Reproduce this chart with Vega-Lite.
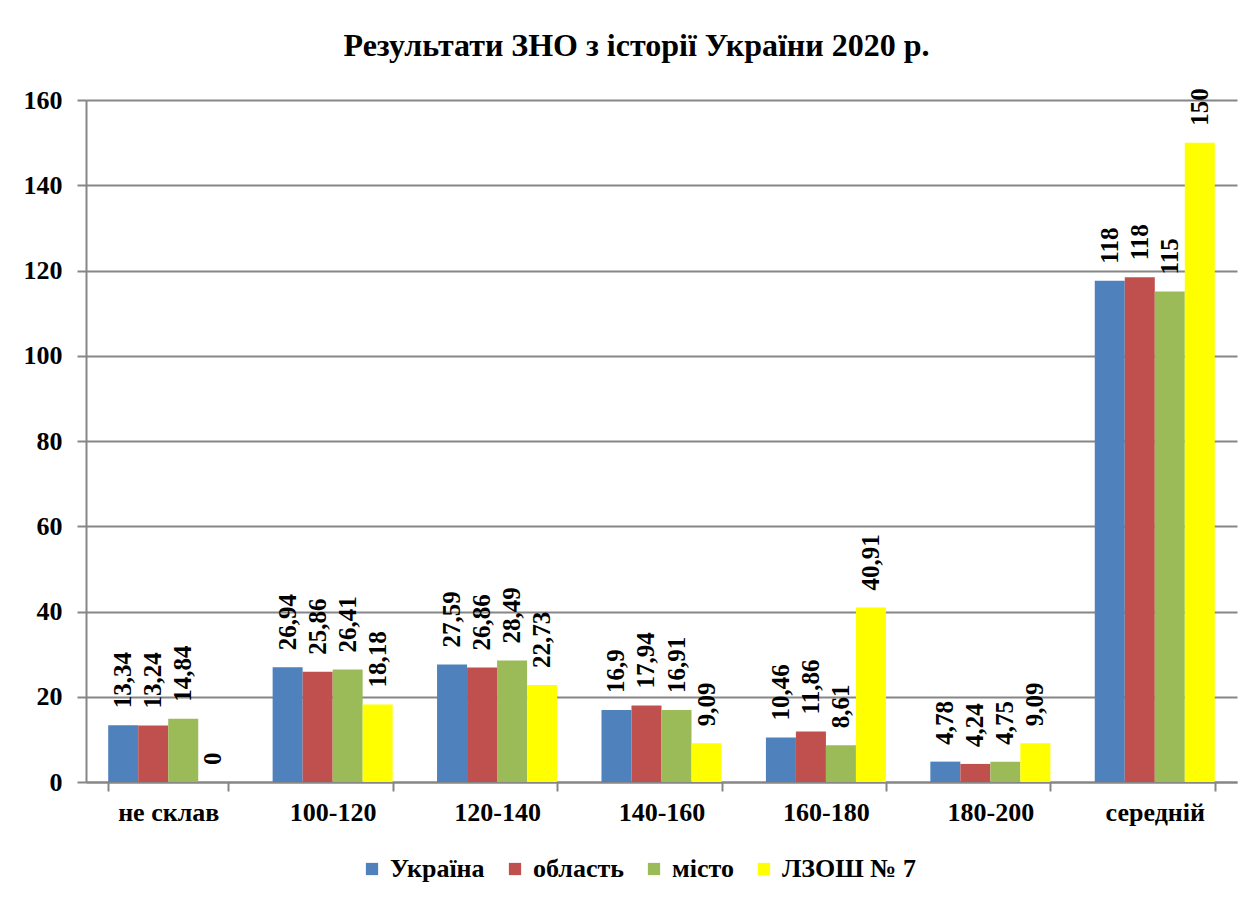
{
  "$schema": "https://vega.github.io/schema/vega-lite/v6.json",
  "width": 1151,
  "height": 682,
  "autosize": "none",
  "padding": {"left": 86, "top": 100, "right": 19, "bottom": 118},
  "background": "white",
  "title": {
    "text": "Результати ЗНО з історії України 2020 р.",
    "font": "Liberation Serif",
    "fontSize": 32,
    "fontWeight": "bold",
    "color": "black",
    "anchor": "middle",
    "baseline": "alphabetic",
    "dx": -25,
    "offset": -1
  },
  "data": {
    "values": [
      {"cat": "не склав", "series": "Україна", "value": 13.34, "label": "13,34"},
      {"cat": "не склав", "series": "область", "value": 13.24, "label": "13,24"},
      {"cat": "не склав", "series": "місто", "value": 14.84, "label": "14,84"},
      {"cat": "не склав", "series": "ЛЗОШ № 7", "value": 0, "label": "0"},
      {"cat": "100-120", "series": "Україна", "value": 26.94, "label": "26,94"},
      {"cat": "100-120", "series": "область", "value": 25.86, "label": "25,86"},
      {"cat": "100-120", "series": "місто", "value": 26.41, "label": "26,41"},
      {"cat": "100-120", "series": "ЛЗОШ № 7", "value": 18.18, "label": "18,18"},
      {"cat": "120-140", "series": "Україна", "value": 27.59, "label": "27,59"},
      {"cat": "120-140", "series": "область", "value": 26.86, "label": "26,86"},
      {"cat": "120-140", "series": "місто", "value": 28.49, "label": "28,49"},
      {"cat": "120-140", "series": "ЛЗОШ № 7", "value": 22.73, "label": "22,73"},
      {"cat": "140-160", "series": "Україна", "value": 16.9, "label": "16,9"},
      {"cat": "140-160", "series": "область", "value": 17.94, "label": "17,94"},
      {"cat": "140-160", "series": "місто", "value": 16.91, "label": "16,91"},
      {"cat": "140-160", "series": "ЛЗОШ № 7", "value": 9.09, "label": "9,09"},
      {"cat": "160-180", "series": "Україна", "value": 10.46, "label": "10,46"},
      {"cat": "160-180", "series": "область", "value": 11.86, "label": "11,86"},
      {"cat": "160-180", "series": "місто", "value": 8.61, "label": "8,61"},
      {"cat": "160-180", "series": "ЛЗОШ № 7", "value": 40.91, "label": "40,91"},
      {"cat": "180-200", "series": "Україна", "value": 4.78, "label": "4,78"},
      {"cat": "180-200", "series": "область", "value": 4.24, "label": "4,24"},
      {"cat": "180-200", "series": "місто", "value": 4.75, "label": "4,75"},
      {"cat": "180-200", "series": "ЛЗОШ № 7", "value": 9.09, "label": "9,09"},
      {"cat": "середній", "series": "Україна", "value": 117.6, "label": "118"},
      {"cat": "середній", "series": "область", "value": 118.4, "label": "118"},
      {"cat": "середній", "series": "місто", "value": 115.1, "label": "115"},
      {"cat": "середній", "series": "ЛЗОШ № 7", "value": 150, "label": "150"}
    ]
  },
  "encoding": {
    "x": {
      "field": "cat",
      "type": "nominal",
      "sort": ["не склав", "100-120", "120-140", "140-160", "160-180", "180-200", "середній"],
      "scale": {"paddingInner": 0.27, "paddingOuter": 0.135},
      "axis": {
        "title": null,
        "labelAngle": 0,
        "labelFont": "Liberation Serif",
        "labelFontSize": 26,
        "labelFontWeight": "bold",
        "labelColor": "black",
        "labelPadding": 8,
        "tickBand": "extent",
        "tickSize": 9,
        "tickColor": "#868686",
        "tickWidth": 2,
        "domainColor": "#868686",
        "domainWidth": 2,
        "grid": false
      }
    },
    "xOffset": {
      "field": "series",
      "type": "nominal",
      "sort": ["Україна", "область", "місто", "ЛЗОШ № 7"],
      "scale": {"paddingInner": 0, "paddingOuter": 0}
    },
    "y": {
      "field": "value",
      "type": "quantitative",
      "scale": {"domain": [0, 160], "nice": false},
      "axis": {
        "title": null,
        "values": [0, 20, 40, 60, 80, 100, 120, 140, 160],
        "labelFont": "Liberation Serif",
        "labelFontSize": 26,
        "labelFontWeight": "bold",
        "labelColor": "black",
        "labelPadding": 15,
        "tickSize": 9,
        "tickColor": "#868686",
        "tickWidth": 2,
        "domainColor": "#868686",
        "domainWidth": 2,
        "grid": true,
        "gridColor": "#868686",
        "gridWidth": 2
      }
    }
  },
  "layer": [
    {
      "mark": {"type": "bar"},
      "encoding": {
        "color": {
          "field": "series",
          "type": "nominal",
          "sort": ["Україна", "область", "місто", "ЛЗОШ № 7"],
          "scale": {
            "domain": ["Україна", "область", "місто", "ЛЗОШ № 7"],
            "range": ["#4F81BD", "#C0504D", "#9BBB59", "#FFFF00"]
          },
          "legend": {
            "title": null,
            "orient": "none",
            "legendX": 273,
            "legendY": 756,
            "direction": "horizontal",
            "symbolType": "square",
            "symbolSize": 150,
            "symbolStrokeWidth": 0,
            "labelFont": "Liberation Serif",
            "labelFontSize": 26,
            "labelFontWeight": "bold",
            "labelColor": "black",
            "labelOffset": 5,
            "columnPadding": 17
          }
        }
      }
    },
    {
      "mark": {
        "type": "text",
        "angle": 270,
        "align": "left",
        "baseline": "middle",
        "dx": 17,
        "font": "Liberation Serif",
        "fontSize": 25,
        "fontWeight": "bold",
        "color": "black"
      },
      "encoding": {
        "text": {"field": "label", "type": "nominal"}
      }
    }
  ],
  "config": {
    "view": {"stroke": null},
    "legend": {"labelFont": "Liberation Serif", "labelFontWeight": "bold"}
  }
}
